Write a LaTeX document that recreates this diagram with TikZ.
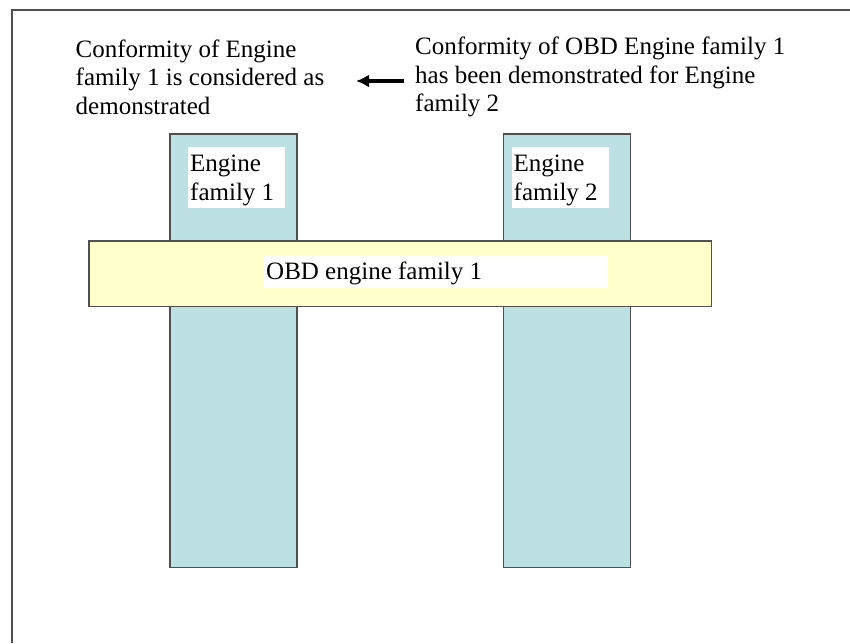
\documentclass[tikz,border=0pt]{standalone}
\usepackage{fontspec}
\setmainfont{Liberation Serif}
\usetikzlibrary{arrows.meta}
\definecolor{colfill}{HTML}{BCE0E3}
\definecolor{bandfill}{HTML}{FFFFCC}
\definecolor{edge}{HTML}{505050}
\begin{document}
\begin{tikzpicture}[x=1pt,y=-1pt,
  txt/.style={inner sep=0pt, font=\fontsize{25}{28.4}\selectfont, align=left, anchor=base west},
  column/.style={draw=edge, line width=1.8pt, fill=colfill},
  band/.style={draw=edge, line width=1.5pt, fill=bandfill},
  whitebox/.style={fill=white, draw=none, inner sep=0pt, anchor=north west}
]
\useasboundingbox (0,0) rectangle (850,643);
\fill[white] (0,0) rectangle (850,643);
% frame
\coordinate (ftl) at (12,10);
\coordinate (ftr) at (850,10);
\coordinate (fbl) at (12,643);
\draw[edge, line width=1.8pt] (fbl) -- (ftl) -- (ftr);
% top texts (anchor = baseline of last line)
\node[txt] (left) at (75.5,114) {Conformity of Engine\\family 1 is considered as\\demonstrated};
\node[txt] (right) at (415,111.7) {Conformity of OBD Engine family 1\\has been demonstrated for Engine\\family 2};
\coordinate (atail) at (404,81);
\coordinate (ahead) at (356,81);
\draw[line width=3.5pt, -{Latex[length=13pt,width=13pt]}] (atail) -- (ahead);
% columns
\draw[column] (170,134) rectangle (297,567.5);
\draw[column] (503.5,134) rectangle (630.5,567.5);
% label boxes
\node[whitebox, minimum width=96.6pt, minimum height=61pt] (box1) at (187.7,146.7) {};
\node[whitebox, minimum width=96.6pt, minimum height=61pt] (box2) at (511.7,146.7) {};
\node[txt] (lab1) at (190,200) {Engine\\family 1};
\node[txt] (lab2) at (513.5,200) {Engine\\family 2};
% band
\draw[band] (89,241) rectangle (711.7,306.7);
\node[whitebox, minimum width=344pt, minimum height=31.7pt] (box3) at (264,256) {};
\node[txt] (lab3) at (266,279.3) {OBD engine family 1};
\end{tikzpicture}
\end{document}
